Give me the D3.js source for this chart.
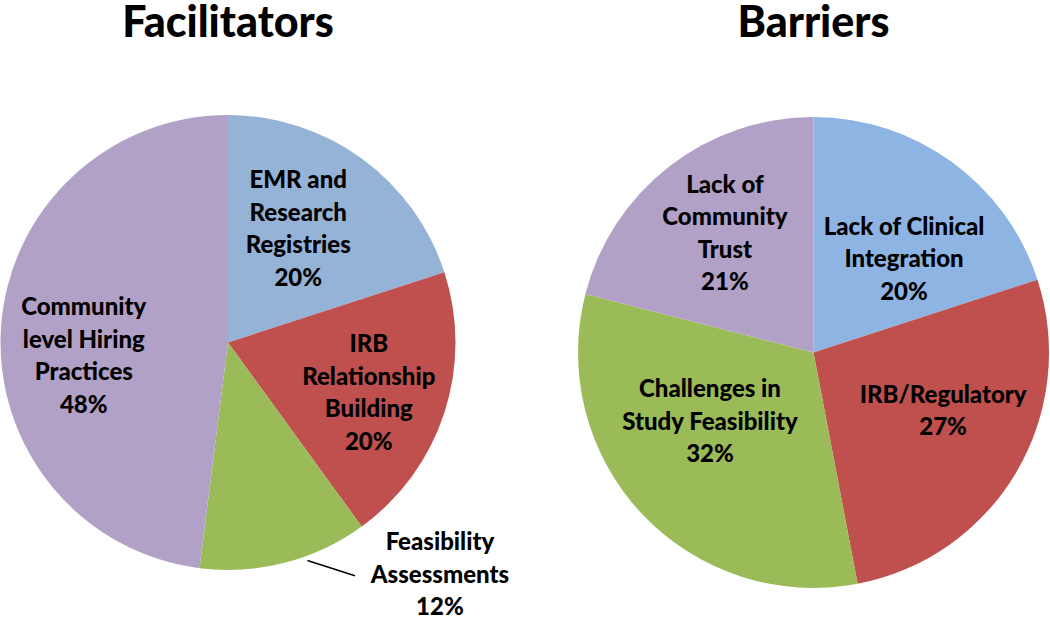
<!DOCTYPE html>
<html lang="en">
<head>
<meta charset="utf-8">
<title>Facilitators and Barriers</title>
<script src="https://d3js.org/d3.v7.min.js"></script>
<style>
  html, body { margin: 0; padding: 0; background: #fff; }
  svg { display: block; }
  text { font-family: Lato, "Open Sans", sans-serif; font-weight: 900; fill: #000; }
</style>
</head>
<body>
<script>
// facilitators pie
var facLabels = [["EMR and", "Research", "Registries"], ["IRB", "Relationship", "Building"], ["Feasibility", "Assessments"], ["Community", "level Hiring", "Practices"]];
var facValues = [20, 20, 12, 48];
var facColors = ["#95B3D7", "#C0504D", "#9BBB59", "#B2A1C7"];

// barriers pie
var barLabels = [["Lack of Clinical", "Integration"], ["IRB/Regulatory"], ["Challenges in", "Study Feasibility"], ["Lack of", "Community", "Trust"]];
var barValues = [20, 27, 32, 21];
var barColors = ["#8EB4E3", "#C0504D", "#9BBB59", "#B2A1C7"];

var W = 1050, H = 622;
var svg = d3.select("body").append("svg")
    .attr("width", W)
    .attr("height", H);

var lineH = 32.5;

function drawPie(opts) {
  var g = svg.append("g").attr("transform", "translate(" + opts.cx + "," + opts.cy + ")");

  var pie = d3.pie().sort(null).value(function(d) { return d; });
  var arcs = pie(opts.values);
  var arc = d3.arc().innerRadius(0).outerRadius(opts.r);
  var labelArc = d3.arc().innerRadius(opts.r * 0.6).outerRadius(opts.r * 0.6);

  g.selectAll("path").data(arcs).enter().append("path")
      .attr("d", arc)
      .attr("fill", function(d, i) { return opts.colors[i]; });

  // title
  svg.append("text")
      .attr("x", opts.cx)
      .attr("y", 37)
      .attr("text-anchor", "middle")
      .style("font-size", "43px")
      .text(opts.title);

  arcs.forEach(function(d, i) {
    var lines = opts.labels[i].concat([d.value + "%"]);
    var c = labelArc.centroid(d);
    var x = c[0] + opts.nudge[i][0], y = c[1] + opts.nudge[i][1];

    if (opts.outside === i) {
      // leader line from the rim to the outside label
      var a = d.startAngle + (d.endAngle - d.startAngle) * 0.37;
      var r0 = opts.r * 1.02;
      g.append("line")
          .attr("x1", r0 * Math.sin(a)).attr("y1", -r0 * Math.cos(a))
          .attr("x2", x - 85).attr("y2", y + 1)
          .attr("stroke", "#000").attr("stroke-width", 1.5);
    }

    var t = g.append("text")
        .attr("text-anchor", "middle")
        .style("font-size", "24px");
    var top = y - (lines.length - 1) * lineH / 2 + 8;
    lines.forEach(function(s, k) {
      t.append("tspan").attr("x", x).attr("y", top + k * lineH).text(s);
    });
  });
}

drawPie({ title: "Facilitators", cx: 228, cy: 342.5, r: 227.5,
  values: facValues, colors: facColors, labels: facLabels,
  nudge: [[-10, -3], [11, 8.5], [178, 100], [-8, 22]], outside: 2 });

drawPie({ title: "Barriers", cx: 813.5, cy: 352.5, r: 235.5,
  values: barValues, colors: barColors, labels: barLabels,
  nudge: [[7.5, 20.8], [8, -13.4], [-0.5, -27.5], [-2, -7.3]] });
</script>
</body>
</html>
